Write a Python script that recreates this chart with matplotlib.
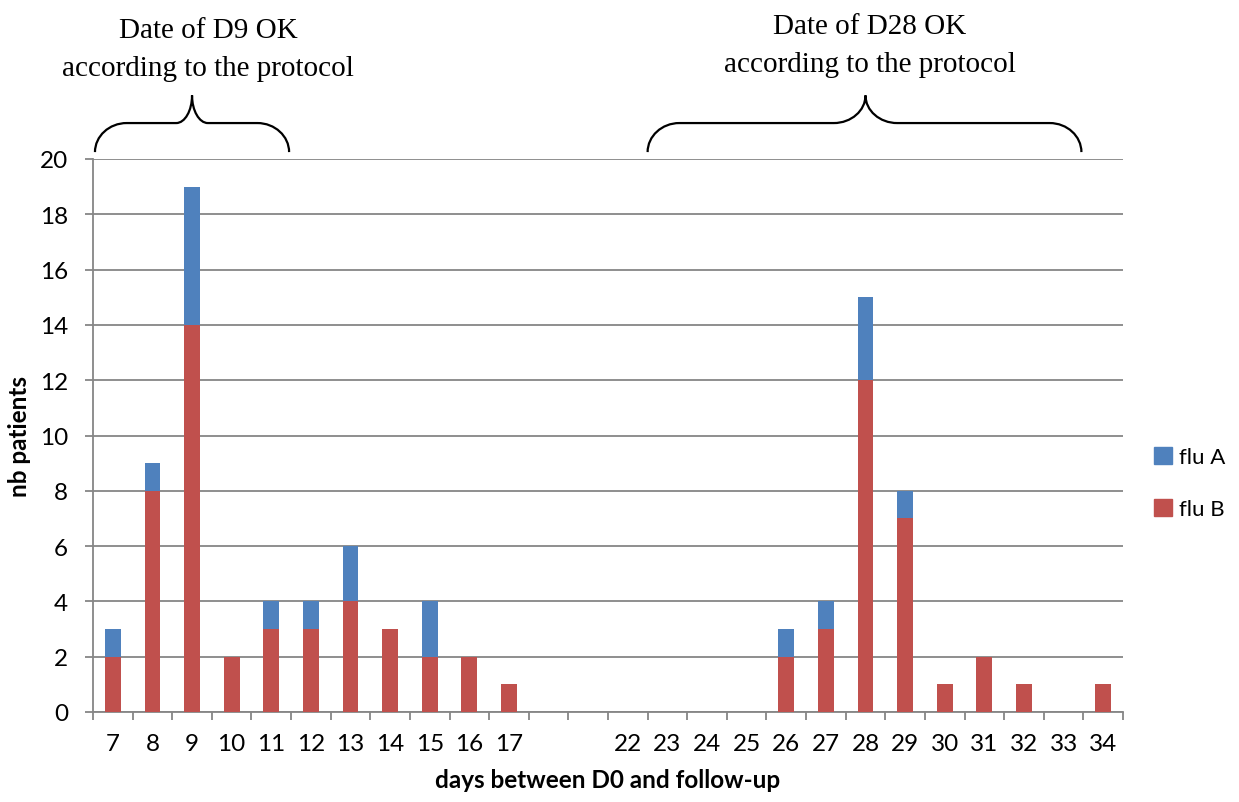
import numpy as np
import matplotlib.pyplot as plt
from matplotlib.path import Path
from matplotlib.patches import PathPatch, Patch

days = ['7', '8', '9', '10', '11', '12', '13', '14', '15', '16', '17', '', '',
        '22', '23', '24', '25', '26', '27', '28', '29', '30', '31', '32', '33', '34']
flu_b = [2, 8, 14, 2, 3, 3, 4, 3, 2, 2, 1, 0, 0,
         0, 0, 0, 0, 2, 3, 12, 7, 1, 2, 1, 0, 1]
flu_a = [1, 1, 5, 0, 1, 1, 2, 0, 2, 0, 0, 0, 0,
         0, 0, 0, 0, 1, 1, 3, 1, 0, 0, 0, 0, 0]

BLUE = '#4F81BD'
RED = '#C0504D'
GREY = '#868686'
SANS = 'Lato'
SERIF = 'Liberation Serif'
FS = 17.5

fig = plt.figure(figsize=(12.39, 8.03), dpi=100)
ax = fig.add_axes([93 / 1239, 90 / 803, 1030 / 1239, 553 / 803])

x = np.arange(len(days))
ax.bar(x, flu_b, width=0.4, color=RED, zorder=3)
ax.bar(x, flu_a, width=0.4, bottom=flu_b, color=BLUE, zorder=3)

ax.set_xlim(-0.5, len(days) - 0.5)
ax.set_ylim(0, 20)
ax.set_yticks(range(0, 21, 2))
ax.grid(axis='y', color=GREY, linewidth=1.3, zorder=0)
ax.set_axisbelow(True)

# labels in the middle of each slot, tick marks on the slot boundaries
ax.set_xticks(x)
ax.set_xticklabels(days)
ax.set_xticks(np.arange(-0.5, len(days)), minor=True)
ax.tick_params(axis='x', which='major', length=0, pad=15)
ax.tick_params(axis='x', which='minor', length=6, width=1.3, color=GREY)
ax.tick_params(axis='y', length=6, width=1.3, color=GREY, pad=12)
ax.tick_params(labelsize=FS)
for lab in ax.get_xticklabels() + ax.get_yticklabels():
    lab.set_fontfamily(SANS)

for side in ['top', 'right']:
    ax.spines[side].set_visible(False)
for side in ['left', 'bottom']:
    ax.spines[side].set_color(GREY)
    ax.spines[side].set_linewidth(1.3)

ax.set_xlabel('days between D0 and follow-up', fontfamily=SANS, fontweight='bold',
              fontsize=FS, labelpad=10)
ax.set_ylabel('nb patients', fontfamily=SANS, fontweight='bold', fontsize=FS,
              labelpad=6)

handles = [Patch(color=BLUE, label='flu A'), Patch(color=RED, label='flu B')]
fig.legend(handles=handles, loc='center left', bbox_to_anchor=(1150 / 1239, 1 - 484 / 803),
           frameon=False, prop={'family': SANS, 'size': 16},
           handlelength=0.8, handleheight=0.8, handletextpad=0.3,
           labelspacing=1.4, borderaxespad=0, borderpad=0.2)


def brace(x0, x1, xm, r_end, r_mid, y_end=20.25, y_flat=21.3, y_tip=22.3):
    dy = y_flat - y_end
    dt = y_tip - y_flat
    verts = [
        (x0, y_end),
        (x0, y_end + 0.55 * dy), (x0 + 0.45 * r_end, y_flat), (x0 + r_end, y_flat),
        (xm - r_mid, y_flat),
        (xm - 0.45 * r_mid, y_flat), (xm, y_tip - 0.55 * dt), (xm, y_tip),
        (xm, y_tip - 0.55 * dt), (xm + 0.45 * r_mid, y_flat), (xm + r_mid, y_flat),
        (x1 - r_end, y_flat),
        (x1 - 0.45 * r_end, y_flat), (x1, y_end + 0.55 * dy), (x1, y_end),
    ]
    codes = [Path.MOVETO,
             Path.CURVE4, Path.CURVE4, Path.CURVE4,
             Path.LINETO,
             Path.CURVE4, Path.CURVE4, Path.CURVE4,
             Path.CURVE4, Path.CURVE4, Path.CURVE4,
             Path.LINETO,
             Path.CURVE4, Path.CURVE4, Path.CURVE4]
    ax.add_patch(PathPatch(Path(verts, codes), facecolor='none', edgecolor='black',
                           linewidth=1.6, clip_on=False))


brace(-0.45, 4.45, 2.0, 0.8, 0.4)
brace(13.5, 24.45, 19.0, 0.8, 0.8)

fig.text(208 / 1239, 1 - 18 / 803, 'Date of D9 OK\naccording to the protocol',
         ha='center', va='top', fontfamily=SERIF, fontsize=21, linespacing=1.6)
fig.text(870 / 1239, 1 - 14 / 803, 'Date of D28 OK\naccording to the protocol',
         ha='center', va='top', fontfamily=SERIF, fontsize=21, linespacing=1.6)

fig.savefig('out.png', dpi=100)
